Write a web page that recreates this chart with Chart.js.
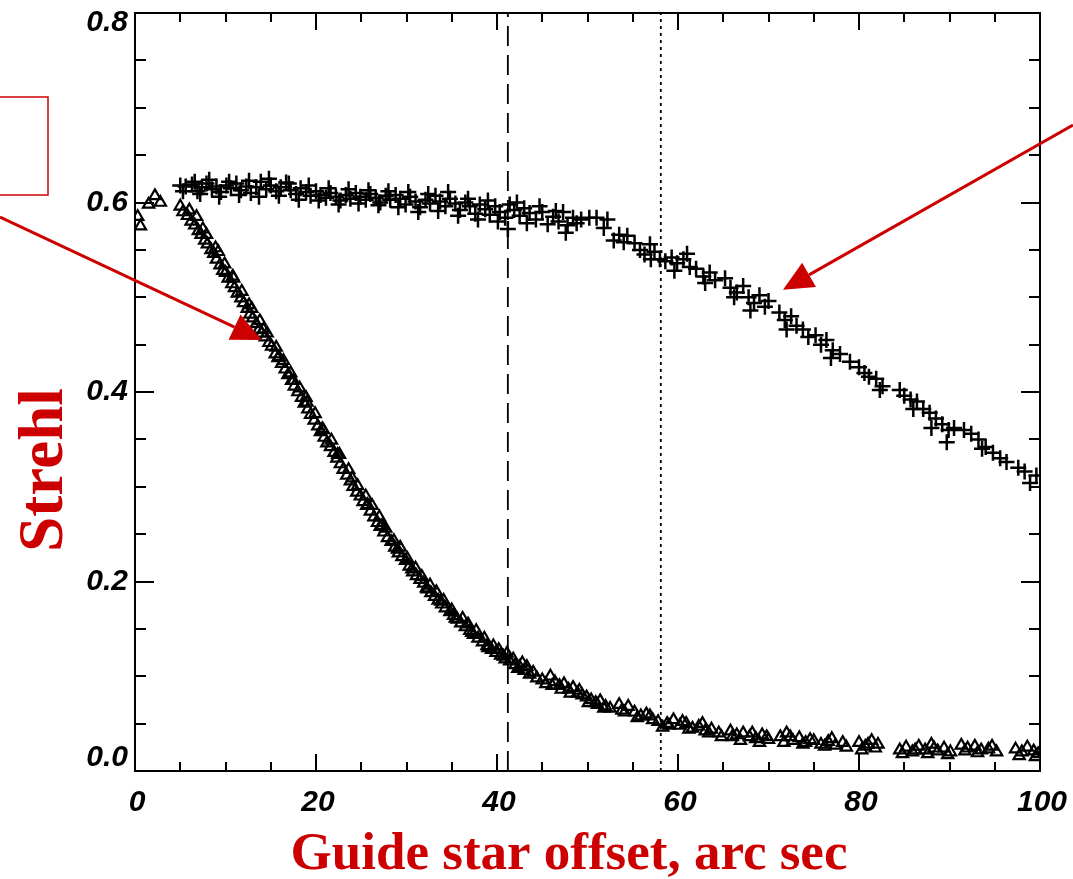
<!DOCTYPE html>
<html>
<head>
<meta charset="utf-8">
<title>Strehl vs guide star offset</title>
<script src="https://cdn.jsdelivr.net/npm/chart.js@4/dist/chart.umd.min.js"></script>
<style>
  html, body { margin: 0; padding: 0; background: #fff; }
  #wrap { width: 1073px; height: 879px; position: relative; }
</style>
</head>
<body>
<div id="wrap"><canvas id="strehl" width="1073" height="879"></canvas></div>
<script>
"use strict";

// ---- data ----
// lower curve (triangles)
let triX = [0.3, 0.6, 1.5, 2.2, 2.8, 5.0, 5.3, 5.8, 6.2, 6.6, 7.0, 7.3, 7.7, 8.0, 8.4, 8.7, 9.0, 9.4, 9.7, 10.0,
  10.3, 10.7, 11.0, 11.3, 11.7, 12.0, 12.4, 12.7, 13.0, 13.4, 13.7, 14.0, 14.4, 14.8, 15.1, 15.5, 15.8, 16.2, 16.6, 16.9,
  17.3, 17.6, 18.0, 18.4, 18.7, 19.1, 19.4, 19.8, 20.2, 20.5, 20.9, 21.2, 21.6, 22.0, 22.3, 22.7, 23.0, 23.4, 23.8, 24.1,
  24.5, 24.9, 25.2, 25.6, 26.0, 26.4, 26.8, 27.1, 27.5, 27.9, 28.3, 28.7, 29.1, 29.5, 29.9, 30.3, 30.7, 31.1, 31.5, 31.9,
  32.3, 32.7, 33.1, 33.5, 33.9, 34.3, 34.8, 35.2, 35.6, 36.0, 36.5, 37.0, 37.4, 37.9, 38.4, 38.9, 39.4, 39.9, 40.4, 40.9,
  41.4, 42.0, 42.5, 43.0, 43.6,
  7.5, 9.2, 10.9, 12.6, 14.2, 15.9, 17.5, 19.0, 20.7, 22.4, 24.0, 25.7, 27.3, 29.0, 30.6, 32.2, 33.8, 35.4, 37.2, 39.0, 40.7, 42.3,
  6.0, 6.8, 7.9, 8.9, 9.9, 10.8, 11.8, 12.9, 13.8, 14.6, 15.6, 16.4, 17.2, 18.2, 18.9, 19.9, 20.8, 21.7, 22.6, 23.6,
  24.6, 25.5, 26.2, 27.0, 27.7, 28.6, 29.3, 30.1, 31.0, 31.7, 32.6, 33.3, 34.1, 35.0, 36.2, 36.8, 37.7, 38.6, 39.6, 40.2,
  41.1, 41.8, 42.8, 43.3, 44.0,
  44.4, 45.0, 45.9, 46.4, 46.9, 47.4, 47.9, 48.4, 48.9, 49.4, 49.9, 50.4, 50.9, 51.4, 52.0, 52.5, 53.8, 54.5, 55.2, 55.9,
  56.5, 57.2, 57.8, 58.8, 59.5, 60.2, 60.9, 61.6, 62.3, 63.0, 63.7, 64.5, 65.8, 66.5, 67.2, 67.9, 68.6, 69.3, 70.0, 71.3,
  72.0, 72.7, 73.4, 74.1, 75.0, 75.8, 76.6, 77.4, 78.2, 80.0, 80.7, 81.4, 82.1, 84.5, 85.2, 85.9, 86.6, 87.3, 88.0, 88.7,
  89.4, 90.1, 91.3, 92.0, 92.8, 93.5, 94.3, 95.2, 97.3, 98.0, 99.3, 99.8,
  45.4, 46.1, 47.1, 48.1, 49.1, 50.1, 51.1, 51.8, 53.5, 54.1, 55.5, 56.9, 58.3, 59.0, 60.5, 61.2, 62.7, 63.4, 64.8, 66.0,
  66.9, 68.2, 69.0, 69.8, 71.7, 72.4, 73.8, 74.6, 76.2, 77.0, 78.6, 80.3, 81.0, 81.8, 84.8, 86.2, 87.6, 88.3, 89.8, 91.7,
  93.1, 94.7, 97.7, 98.6, 99.5];
let triY = [0.585, 0.575, 0.598, 0.607, 0.600, 0.596, 0.590, 0.586, 0.580, 0.576, 0.570, 0.566, 0.560, 0.556, 0.550, 0.546, 0.540, 0.534, 0.528, 0.526,
  0.520, 0.514, 0.510, 0.504, 0.499, 0.494, 0.488, 0.482, 0.478, 0.472, 0.466, 0.462, 0.458, 0.452, 0.448, 0.440, 0.436, 0.430, 0.424, 0.418,
  0.412, 0.406, 0.400, 0.394, 0.388, 0.382, 0.376, 0.370, 0.364, 0.358, 0.352, 0.346, 0.342, 0.336, 0.330, 0.324, 0.318, 0.312, 0.306, 0.300,
  0.294, 0.290, 0.284, 0.280, 0.274, 0.268, 0.262, 0.258, 0.252, 0.246, 0.242, 0.236, 0.230, 0.226, 0.222, 0.216, 0.210, 0.206, 0.202, 0.198,
  0.192, 0.188, 0.184, 0.180, 0.176, 0.172, 0.168, 0.164, 0.160, 0.156, 0.152, 0.148, 0.144, 0.140, 0.136, 0.132, 0.128, 0.125, 0.122, 0.118,
  0.116, 0.112, 0.110, 0.106, 0.102,
  0.572, 0.548, 0.520, 0.492, 0.466, 0.437, 0.412, 0.389, 0.361, 0.334, 0.309, 0.281, 0.259, 0.234, 0.213, 0.193, 0.179, 0.161, 0.146, 0.130, 0.121, 0.108,
  0.592, 0.585, 0.566, 0.552, 0.535, 0.522, 0.506, 0.488, 0.475, 0.462, 0.447, 0.433, 0.420, 0.404, 0.394, 0.377, 0.360, 0.349, 0.334, 0.318,
  0.301, 0.290, 0.280, 0.268, 0.256, 0.243, 0.236, 0.224, 0.214, 0.205, 0.196, 0.189, 0.180, 0.170, 0.161, 0.155, 0.148, 0.140, 0.132, 0.128,
  0.124, 0.118, 0.114, 0.110, 0.104,
  0.098, 0.096, 0.100, 0.094, 0.090, 0.092, 0.086, 0.088, 0.082, 0.080, 0.078, 0.075, 0.072, 0.074, 0.068, 0.066, 0.064, 0.068, 0.062, 0.058,
  0.060, 0.054, 0.052, 0.050, 0.054, 0.048, 0.050, 0.045, 0.047, 0.042, 0.044, 0.040, 0.042, 0.038, 0.040, 0.036, 0.034, 0.038, 0.033, 0.036,
  0.040, 0.032, 0.035, 0.030, 0.032, 0.028, 0.031, 0.027, 0.030, 0.030, 0.026, 0.032, 0.028, 0.022, 0.025, 0.020, 0.026, 0.022, 0.028, 0.021,
  0.024, 0.020, 0.027, 0.024, 0.026, 0.022, 0.023, 0.020, 0.023, 0.020, 0.021, 0.018,
  0.092, 0.090, 0.086, 0.082, 0.085, 0.072, 0.070, 0.066, 0.070, 0.062, 0.056, 0.058, 0.046, 0.048, 0.052, 0.044, 0.050, 0.040, 0.036, 0.036,
  0.032, 0.040, 0.030, 0.036, 0.030, 0.036, 0.028, 0.033, 0.026, 0.034, 0.025, 0.022, 0.028, 0.024, 0.018, 0.022, 0.018, 0.024, 0.017, 0.021,
  0.019, 0.026, 0.016, 0.025, 0.015];

// upper curve (crosses)
let crossX = [5.0, 5.6, 6.3, 6.9, 7.4, 7.9, 8.5, 9.0, 9.5, 10.1, 10.6, 11.2, 11.7, 12.3, 12.8, 13.4, 13.9, 14.5, 15.0, 15.6,
  16.1, 16.7, 17.2, 17.8, 18.3, 18.9, 19.4, 20.0, 20.5, 21.1, 21.6, 22.2, 22.7, 23.3, 23.8, 24.4, 24.9, 25.5, 26.0, 26.6,
  27.1, 27.7, 28.2, 28.8, 29.3, 29.9, 30.4, 31.0, 31.5, 32.1, 32.6, 33.2, 33.7, 34.3, 34.8, 35.4, 35.9, 36.5, 37.0, 37.6,
  38.1, 38.7, 39.2, 39.8, 40.3, 40.9, 41.4, 41.9, 42.5, 43.0, 43.6, 44.3, 45.0, 46.2, 46.8, 47.3, 47.8, 48.4, 49.3, 50.2,
  51.0, 51.8, 53.5, 54.4, 55.2, 55.8, 56.3, 56.9, 57.4, 58.0, 58.6, 59.3, 59.9, 60.6, 61.3, 62.0, 62.8, 63.5, 64.1, 65.2,
  65.8, 66.5, 67.2, 67.8, 68.4, 69.0, 69.6, 71.2, 71.8, 72.5, 73.1, 73.8, 75.2, 75.8, 76.4, 77.1, 77.9, 80.0, 80.6, 81.1,
  81.9, 82.6, 85.0, 85.7, 86.4, 87.1, 87.8, 88.5, 89.2, 89.9, 89.7, 91.6, 92.4, 93.2, 94.0, 94.8, 95.6, 97.6, 98.3, 99.6,
  5.3, 6.6, 7.2, 8.2, 9.3, 10.4, 11.5, 12.6, 13.7, 14.8, 15.9, 17.0, 18.1, 19.2, 20.3, 21.4, 22.5, 23.6, 24.7, 25.8,
  26.9, 28.0, 29.1, 30.2, 31.3, 32.4, 33.5, 34.6, 35.7, 36.8, 37.9, 39.0, 40.1, 41.2, 42.2, 43.3, 44.7, 45.6, 46.5, 47.6,
  48.8, 52.2, 52.9, 54.0, 57.0, 59.6, 61.0, 63.0, 66.2, 68.0, 70.0, 72.0, 74.4, 76.9, 79.0, 82.3, 84.5, 86.0, 88.0, 90.5,
  93.6, 96.3, 98.9];
let crossY = [0.618, 0.617, 0.619, 0.612, 0.616, 0.620, 0.614, 0.617, 0.611, 0.618, 0.615, 0.620, 0.613, 0.617, 0.610, 0.616, 0.622, 0.614, 0.618, 0.612,
  0.616, 0.621, 0.613, 0.609, 0.615, 0.611, 0.607, 0.612, 0.608, 0.605, 0.610, 0.606, 0.602, 0.608, 0.604, 0.610, 0.606, 0.603, 0.609, 0.605,
  0.600, 0.607, 0.603, 0.608, 0.604, 0.598, 0.606, 0.601, 0.595, 0.603, 0.599, 0.607, 0.601, 0.596, 0.604, 0.599, 0.592, 0.600, 0.596, 0.588,
  0.598, 0.593, 0.587, 0.596, 0.590, 0.584, 0.598, 0.592, 0.586, 0.594, 0.589, 0.582, 0.590, 0.585, 0.580, 0.590, 0.576, 0.584, 0.582, 0.584,
  0.584, 0.573, 0.566, 0.565, 0.557, 0.550, 0.545, 0.556, 0.548, 0.540, 0.538, 0.542, 0.536, 0.540, 0.532, 0.530, 0.522, 0.526, 0.518, 0.520,
  0.510, 0.505, 0.512, 0.500, 0.494, 0.502, 0.490, 0.484, 0.476, 0.480, 0.470, 0.466, 0.460, 0.450, 0.455, 0.444, 0.440, 0.426, 0.420, 0.416,
  0.414, 0.406, 0.396, 0.392, 0.390, 0.382, 0.378, 0.372, 0.366, 0.360, 0.347, 0.360, 0.356, 0.350, 0.342, 0.336, 0.330, 0.320, 0.316, 0.312,
  0.612, 0.622, 0.609, 0.624, 0.606, 0.622, 0.608, 0.623, 0.606, 0.625, 0.607, 0.620, 0.603, 0.618, 0.602, 0.615, 0.598, 0.614, 0.599, 0.613,
  0.597, 0.612, 0.595, 0.611, 0.590, 0.609, 0.591, 0.611, 0.586, 0.604, 0.582, 0.602, 0.580, 0.572, 0.600, 0.578, 0.596, 0.577, 0.591, 0.568,
  0.578, 0.582, 0.560, 0.558, 0.540, 0.528, 0.546, 0.515, 0.500, 0.486, 0.496, 0.466, 0.458, 0.436, 0.432, 0.402, 0.402, 0.382, 0.362, 0.362,
  0.340, 0.326, 0.304];

// vertical reference lines
let dashedLineX = 41.2;
let dottedLineX = 58.1;

// axes
let xMin = 0, xMax = 100;
let yMin = 0, yMax = 0.8;
let xMajorTicks = [0, 20, 40, 60, 80, 100];
let xTickLabels = ["0", "20", "40", "60", "80", "100"];
let yMajorTicks = [0, 0.2, 0.4, 0.6, 0.8];
let yTickLabels = ["0.0", "0.2", "0.4", "0.6", "0.8"];
let xMinorStep = 5;
let yMinorStep = 0.05;

let xTitle = "Guide star offset, arc sec";
let yTitle = "Strehl";

// red arrows: tail in page pixels, tip in data units
let leftArrowTip = { x: 14.0, y: 0.455 };
let rightArrowTip = { x: 71.6, y: 0.508 };

const RED = "#cc0000";

let toPoints = (xs, ys) => xs.map((x, i) => ({ x: x, y: ys[i] }));

// frame, inward ticks, tick labels, titles and red annotations
let framePlugin = {
  id: "framePlugin",
  afterDraw(chart) {
    let ctx = chart.ctx;
    let xs = chart.scales.x;
    let ys = chart.scales.y;
    let a = chart.chartArea;
    ctx.save();

    // box
    ctx.strokeStyle = "#000";
    ctx.lineWidth = 2;
    ctx.strokeRect(a.left, a.top, a.right - a.left, a.bottom - a.top);

    // x ticks (bottom + top)
    for (let v = xMin; v <= xMax + 1e-9; v += xMinorStep) {
      let px = Math.round(xs.getPixelForValue(v));
      let major = xMajorTicks.some(t => Math.abs(t - v) < 1e-6);
      let len = major ? 17 : 9;
      ctx.beginPath();
      ctx.moveTo(px, a.bottom);
      ctx.lineTo(px, a.bottom - len);
      ctx.moveTo(px, a.top);
      ctx.lineTo(px, a.top + len);
      ctx.stroke();
    }
    // y ticks (left + right)
    for (let v = yMin; v <= yMax + 1e-9; v += yMinorStep) {
      let py = Math.round(ys.getPixelForValue(v));
      let major = yMajorTicks.some(t => Math.abs(t - v) < 1e-6);
      let len = major ? 19 : 11;
      ctx.beginPath();
      ctx.moveTo(a.left, py);
      ctx.lineTo(a.left + len, py);
      ctx.moveTo(a.right, py);
      ctx.lineTo(a.right - len, py);
      ctx.stroke();
    }

    // tick labels
    ctx.fillStyle = "#000";
    ctx.font = "italic bold 30px 'Liberation Sans', Arial, sans-serif";
    ctx.textAlign = "right";
    ctx.textBaseline = "middle";
    yMajorTicks.forEach((v, i) => {
      let py = ys.getPixelForValue(v);
      py = Math.min(Math.max(py, a.top + 10), a.bottom - 13);
      ctx.fillText(yTickLabels[i], a.left - 7, py);
    });
    ctx.textAlign = "center";
    xMajorTicks.forEach((v, i) => {
      ctx.fillText(xTickLabels[i], xs.getPixelForValue(v) + 2, a.bottom + 32);
    });

    // axis titles
    ctx.fillStyle = RED;
    ctx.font = "bold 53px 'Liberation Serif', 'Times New Roman', serif";
    ctx.textAlign = "center";
    ctx.textBaseline = "alphabetic";
    ctx.fillText(xTitle, 569, 869);

    ctx.save();
    ctx.font = "bold 63px 'Liberation Serif', 'Times New Roman', serif";
    ctx.translate(62, 470);
    ctx.rotate(-Math.PI / 2);
    ctx.fillText(yTitle, 0, 0);
    ctx.restore();

    // red box at top left
    ctx.strokeStyle = RED;
    ctx.lineWidth = 1.5;
    ctx.strokeRect(-2, 97, 50, 98);

    // arrows
    let arrow = (x0, y0, tip) => {
      let x1 = xs.getPixelForValue(tip.x);
      let y1 = ys.getPixelForValue(tip.y);
      let ang = Math.atan2(y1 - y0, x1 - x0);
      let headLen = 30, headW = 14;
      let bx = x1 - headLen * Math.cos(ang);
      let by = y1 - headLen * Math.sin(ang);
      ctx.strokeStyle = RED;
      ctx.fillStyle = RED;
      ctx.lineWidth = 3;
      ctx.beginPath();
      ctx.moveTo(x0, y0);
      ctx.lineTo(bx, by);
      ctx.stroke();
      ctx.beginPath();
      ctx.moveTo(x1, y1);
      ctx.lineTo(bx + headW * Math.sin(ang), by - headW * Math.cos(ang));
      ctx.lineTo(bx - headW * Math.sin(ang), by + headW * Math.cos(ang));
      ctx.closePath();
      ctx.fill();
    };
    arrow(0, 217, leftArrowTip);
    arrow(1073, 125, rightArrowTip);

    ctx.restore();
  }
};

let chart = document.querySelector("#strehl");
let strehlChart = new Chart(chart, {
  type: "scatter",
  data: {
    datasets: [{
      label: "triangles",
      data: toPoints(triX, triY),
      pointStyle: "triangle",
      pointRadius: 6.5,
      borderColor: "#000",
      backgroundColor: "rgba(255,255,255,0)",
      borderWidth: 2.2
    }, {
      label: "crosses",
      data: toPoints(crossX, crossY),
      pointStyle: "cross",
      pointRadius: 8,
      borderColor: "#000",
      borderWidth: 2.5
    }, {
      type: "line",
      label: "dashed",
      data: [{ x: dashedLineX, y: yMin }, { x: dashedLineX, y: yMax }],
      borderColor: "#000",
      borderWidth: 1.8,
      borderDash: [20, 9],
      pointRadius: 0
    }, {
      type: "line",
      label: "dotted",
      data: [{ x: dottedLineX, y: yMin }, { x: dottedLineX, y: yMax }],
      borderColor: "#000",
      borderWidth: 1.8,
      borderDash: [3, 4],
      pointRadius: 0
    }]
  },
  options: {
    responsive: false,
    animation: false,
    layout: { padding: { left: 0, right: 33, top: 13, bottom: 0 } },
    plugins: {
      legend: { display: false },
      tooltip: { enabled: false }
    },
    scales: {
      x: {
        type: "linear",
        min: xMin,
        max: xMax,
        grid: { display: false },
        border: { display: false },
        ticks: { display: false },
        afterFit: scale => { scale.height = 108; }
      },
      y: {
        type: "linear",
        min: yMin,
        max: yMax,
        grid: { display: false },
        border: { display: false },
        ticks: { display: false },
        afterFit: scale => { scale.width = 135; }
      }
    }
  },
  plugins: [framePlugin]
});
</script>
</body>
</html>
